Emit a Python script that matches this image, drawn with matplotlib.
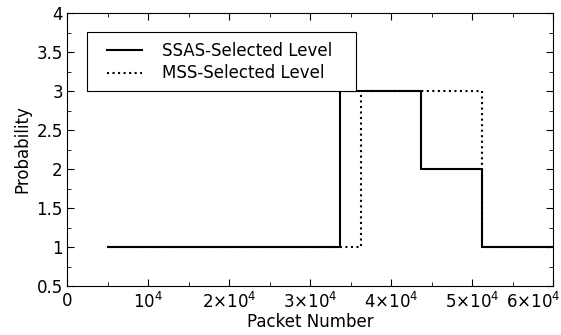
import numpy as np
import matplotlib
matplotlib.use('Agg')
import matplotlib.pyplot as plt
import matplotlib.transforms as mtransforms
from matplotlib.patches import Rectangle
from matplotlib.ticker import MultipleLocator

# step data (packet number, level)
ssas_x = [5000, 33700, 43700, 51200, 60000]
ssas_y = [1, 3, 2, 1, 1]
mss_x = [5000, 36300, 51200, 60000]
mss_y = [1, 3, 1, 1]

xticks = [0, 10000, 20000, 30000, 40000, 50000, 60000]
xticklabels = ['0', r'$10^4$', r'$2{\times}10^4$', r'$3{\times}10^4$',
               r'$4{\times}10^4$', r'$5{\times}10^4$', r'$6{\times}10^4$']
yticks = [0.5, 1, 1.5, 2, 2.5, 3, 3.5, 4]
yticklabels = ['0.5', '1', '1.5', '2', '2.5', '3', '3.5', '4']

plt.rcParams['mathtext.default'] = 'regular'
fs = 12
fig = plt.figure(figsize=(5.61, 3.35), dpi=100)
ax = fig.add_axes([67/561, 1-286/335, 486/561, 273/335])

ax.step(ssas_x, ssas_y, where='post', color='black', lw=1.5, label='SSAS-Selected Level')
ax.step(mss_x, mss_y, where='post', color='black', lw=1.5, ls=':', label='MSS-Selected Level')

ax.set_xlim(0, 60000)
ax.set_ylim(0.5, 4)
ax.set_xticks(xticks)
ax.set_xticklabels(xticklabels)
ax.set_yticks(yticks)
ax.set_yticklabels(yticklabels)
ax.xaxis.set_minor_locator(MultipleLocator(5000))
ax.yaxis.set_minor_locator(MultipleLocator(0.25))
ax.tick_params(which='both', direction='in', top=True, right=True, labelsize=fs)
ax.tick_params(which='major', length=5)
ax.tick_params(which='minor', length=3)
ax.tick_params(axis='x', pad=4)
ax.tick_params(axis='y', pad=3)
ax.set_xlabel('Packet Number', fontsize=fs, labelpad=1)
ax.set_ylabel('Probability', fontsize=fs, labelpad=4)

# last x label sits pulled in from the right edge
last = ax.get_xticklabels()[-1]
last.set_transform(last.get_transform() + mtransforms.ScaledTranslation(-20/100, 0, fig.dpi_scale_trans))

# legend box drawn separately so the padding matches
ax.add_patch(Rectangle((0.041, 0.714), 0.554, 0.216, transform=ax.transAxes,
                       facecolor='white', edgecolor='black', lw=0.8, zorder=4))
leg = ax.legend(loc='upper left', bbox_to_anchor=(0.082, 0.893), frameon=False,
                fontsize=fs, borderpad=0, handlelength=2.1, handletextpad=1.2,
                labelspacing=0.25, borderaxespad=0)
leg.set_zorder(5)

fig.savefig('out.png', dpi=100)
